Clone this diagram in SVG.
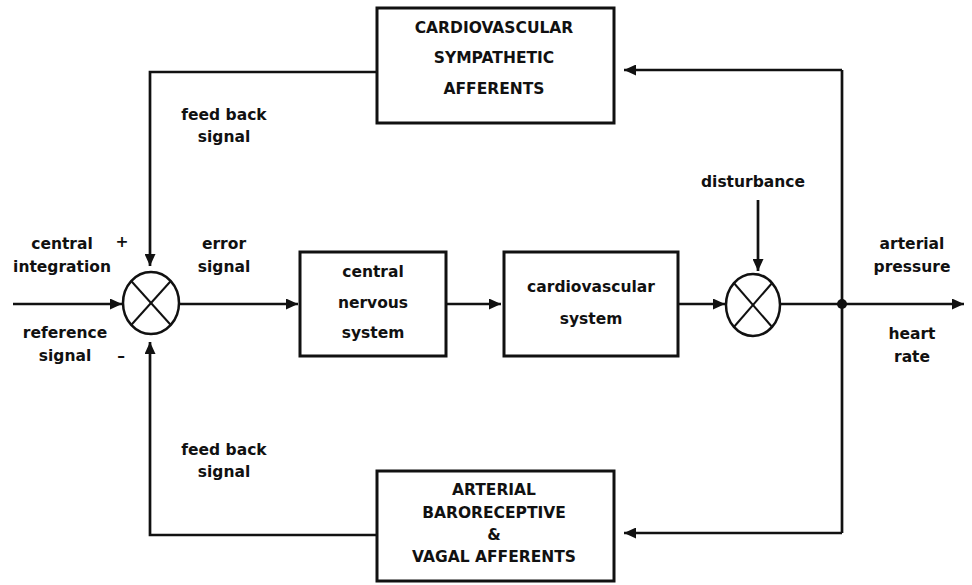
<svg xmlns="http://www.w3.org/2000/svg" width="972" height="585" viewBox="0 0 972 585">
<defs>
<marker id="ah" viewBox="0 0 12 11" refX="12" refY="5.5" markerWidth="12" markerHeight="11" markerUnits="userSpaceOnUse" orient="auto">
<path d="M0,0 L12,5.5 L0,11 z" fill="#111"/>
</marker>
</defs>
<style>
.box{fill:#fff;stroke:#111;stroke-width:3}
.sum{fill:#fff;stroke:#111;stroke-width:2.5}
.x{stroke:#111;stroke-width:2}
.ln{fill:none;stroke:#111;stroke-width:2.7}
.ar{fill:none;stroke:#111;stroke-width:2.7;marker-end:url(#ah)}
text{font-family:"DejaVu Sans",Verdana,sans-serif;font-weight:bold;font-size:15.5px;fill:#111;text-anchor:middle;dominant-baseline:central}
</style>
<rect width="972" height="585" fill="#fff"/>
<g id="connectors">
<path class="ar" d="M377,72 H150 V266"/>
<path class="ar" d="M377,535 H150 V342"/>
<path class="ar" d="M13,304 H122"/>
<path class="ar" d="M180,304 H298"/>
<path class="ar" d="M446,304 H501"/>
<path class="ar" d="M678,304 H725"/>
<path class="ar" d="M758,200 V271"/>
<path class="ar" d="M781,304 H964"/>
<path class="ln" d="M842,304 V70"/>
<path class="ar" d="M842,70 H624"/>
<path class="ln" d="M842,304 V533"/>
<path class="ar" d="M842,533 H624"/>
<circle cx="842" cy="304" r="5" fill="#111"/>
</g>
<g id="sum1">
<ellipse class="sum" cx="151" cy="303" rx="28" ry="31"/>
<line class="x" x1="131.2" y1="281" x2="170.8" y2="325"/>
<line class="x" x1="170.8" y1="281" x2="131.2" y2="325"/>
</g>
<g id="sum2">
<ellipse class="sum" cx="753" cy="305" rx="27" ry="31"/>
<line class="x" x1="733.9" y1="283" x2="772.1" y2="327"/>
<line class="x" x1="772.1" y1="283" x2="733.9" y2="327"/>
</g>
<g id="sympathetic">
<rect class="box" x="377" y="8" width="237" height="115"/>
<text x="494" y="28">CARDIOVASCULAR</text>
<text x="494" y="58">SYMPATHETIC</text>
<text x="494" y="89">AFFERENTS</text>
</g>
<g id="cns">
<rect class="box" x="300" y="252" width="146" height="104"/>
<text x="373" y="272">central</text>
<text x="373" y="303">nervous</text>
<text x="373" y="333">system</text>
</g>
<g id="cvs">
<rect class="box" x="504" y="252" width="174" height="104"/>
<text x="591" y="287">cardiovascular</text>
<text x="591" y="319">system</text>
</g>
<g id="baro">
<rect class="box" x="377" y="471" width="237" height="110"/>
<text x="494" y="490">ARTERIAL</text>
<text x="494" y="513">BARORECEPTIVE</text>
<text x="494" y="535">&amp;</text>
<text x="494" y="557">VAGAL AFFERENTS</text>
</g>
<g id="labels">
<text x="224" y="115">feed back</text>
<text x="224" y="137">signal</text>
<text x="62" y="244">central</text>
<text x="62" y="267">integration</text>
<text x="122" y="242">+</text>
<text x="224" y="244">error</text>
<text x="224" y="267">signal</text>
<text x="65" y="333">reference</text>
<text x="65" y="356">signal</text>
<text x="121" y="356">–</text>
<text x="224" y="450">feed back</text>
<text x="224" y="472">signal</text>
<text x="753" y="182">disturbance</text>
<text x="912" y="244">arterial</text>
<text x="912" y="267">pressure</text>
<text x="912" y="334">heart</text>
<text x="912" y="357">rate</text>
</g>
</svg>
